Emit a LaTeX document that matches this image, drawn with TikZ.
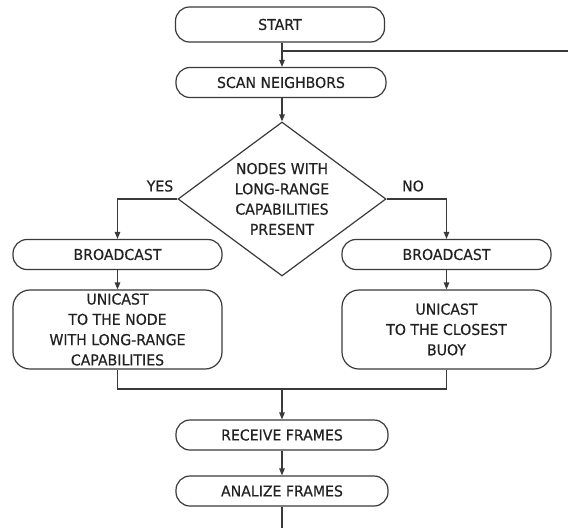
\documentclass[tikz,border=0pt]{standalone}
\usepackage{fontspec}
\setmainfont[FakeStretch=0.94,FakeBold=0.4]{DejaVu Sans}
\usetikzlibrary{arrows.meta,shapes.geometric}
\definecolor{linec}{HTML}{3A3A3A}
\definecolor{textc}{HTML}{222222}
\begin{document}
\begin{tikzpicture}[x=1pt,y=-1pt,
  every node/.style={text=textc,font=\fontsize{15}{20.3}\selectfont},
  flowbox/.style={draw=linec,line width=1.2pt,rounded corners=14pt,
    inner sep=0pt,align=center,minimum width=209pt,minimum height=30pt},
  tallbox/.style={flowbox,rounded corners=17pt,minimum height=79pt},
  decision/.style={draw=linec,line width=1.2pt,diamond,inner sep=0pt,
    minimum width=208pt,minimum height=154pt},
  wire/.style={draw=linec,line width=1.2pt},
  arr/.style={wire,-{Triangle[length=7pt,width=5.5pt]}},
  tag/.style={inner sep=0pt}]
  \useasboundingbox[fill=white] (0,0) rectangle (568,528);

  % main column
  \node[flowbox,minimum height=35pt] (start) at (280,24.5) {START};
  \node[flowbox,minimum width=210pt] (scan) at (281,82.5) {SCAN NEIGHBORS};
  \node[decision] (dec) at (282,199) {};
  \node[align=center,inner sep=0pt] (dectext) at (dec.center) {NODES WITH\\LONG-RANGE\\CAPABILITIES\\PRESENT};

  % two branches
  \node[flowbox] (bl) at (117.5,254.5) {BROADCAST};
  \node[flowbox] (br) at (446.5,254.5) {BROADCAST};
  \node[tallbox] (ul) at (117.5,329.5) {UNICAST\\TO THE NODE\\WITH LONG-RANGE\\CAPABILITIES};
  \node[tallbox] (ur) at (446.5,329.5) {UNICAST\\TO THE CLOSEST\\BUOY};

  % after the merge
  \node[flowbox,minimum width=212pt] (recv) at (282,435) {RECEIVE FRAMES};
  \node[flowbox,minimum width=212pt] (anal) at (282,491) {ANALIZE FRAMES};

  \coordinate (loopend) at (568,51);
  \coordinate (join) at (282,389);
  \coordinate (tail) at (282,528);

  \draw[arr] (start.south -| scan.north) ++(1,0) -- ([xshift=1pt]scan.north);
  \draw[wire] (loopend) -- ([xshift=2pt]start.south |- loopend);
  \draw[arr] ([xshift=1pt]scan.south) -- (dec.north);
  \draw[arr] (dec.west) -| (bl.north);
  \draw[arr] (dec.east) -| (br.north);
  \node[tag] (yes) at (160,186) {YES};
  \node[tag] (no) at (413,186) {NO};
  \draw[arr] (bl) -- (ul);
  \draw[arr] (br) -- (ur);
  \draw[wire] (ul.south) |- (join) -| (ur.south);
  \draw[arr] (join) -- (recv.north);
  \draw[arr] (recv) -- (anal);
  \draw[wire] (anal.south) -- (tail);
\end{tikzpicture}
\end{document}
